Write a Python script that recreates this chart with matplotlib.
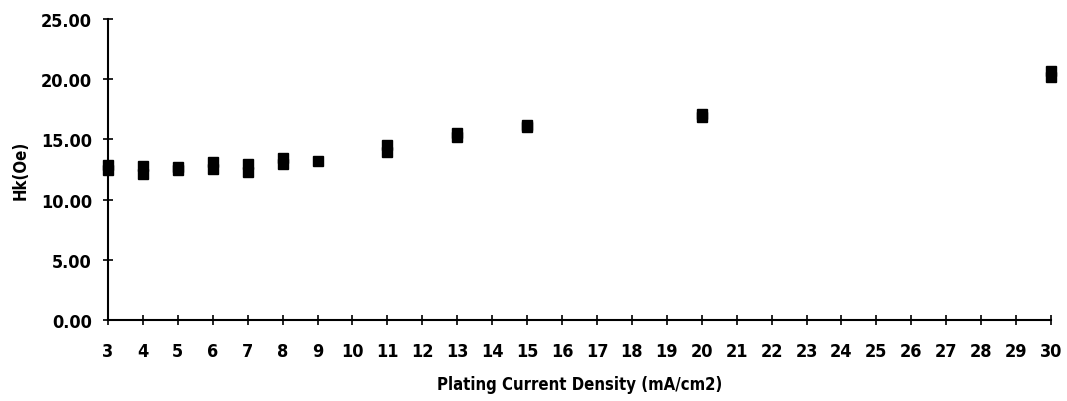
import matplotlib
matplotlib.use("Agg")
import matplotlib.pyplot as plt
from matplotlib.ticker import FormatStrFormatter

# Plating current density (mA/cm2) and measured Hk (Oe), two samples at some densities
density = [3, 3, 4, 4, 5, 5, 6, 6, 7, 7, 8, 8, 9, 11, 11, 13, 13, 15, 15, 20, 20, 30, 30]
hk = [12.85, 12.50, 12.80, 12.15, 12.75, 12.45, 13.10, 12.55, 13.00, 12.30,
      13.45, 12.95, 13.20, 14.50, 13.95, 15.55, 15.20, 16.20, 16.00, 17.15, 16.90,
      20.65, 20.20]

x_ticks = list(range(3, 31))
y_ticks = [0, 5, 10, 15, 20, 25]

plt.rcParams['font.family'] = ['DejaVu Sans']
plt.rcParams['font.stretch'] = 'condensed'
plt.rcParams['font.weight'] = 'bold'

fig = plt.figure(figsize=(10.67, 4.02), dpi=100)
ax = fig.add_axes([0.1012, 0.2015, 0.8838, 0.7485])

ax.plot(density, hk, linestyle='none', marker='s', color='black',
        markersize=7.2, clip_on=False)

ax.set_xlim(3, 30)
ax.set_ylim(0, 25)
ax.set_xticks(x_ticks)
ax.set_yticks(y_ticks)
ax.yaxis.set_major_formatter(FormatStrFormatter('%.2f'))

for side in ['top', 'right']:
    ax.spines[side].set_visible(False)
for side in ['left', 'bottom']:
    ax.spines[side].set_linewidth(1.5)

ax.tick_params(axis='both', direction='inout', length=7, width=1.2, labelsize=13)
ax.tick_params(axis='x', pad=12)
ax.tick_params(axis='y', pad=8)

ax.set_xlabel("Plating Current Density (mA/cm2)", fontsize=12, fontweight='bold', labelpad=11)
ax.set_ylabel("Hk(Oe)", fontsize=12, fontweight='bold', labelpad=8)

fig.savefig("out.png", dpi=100)
